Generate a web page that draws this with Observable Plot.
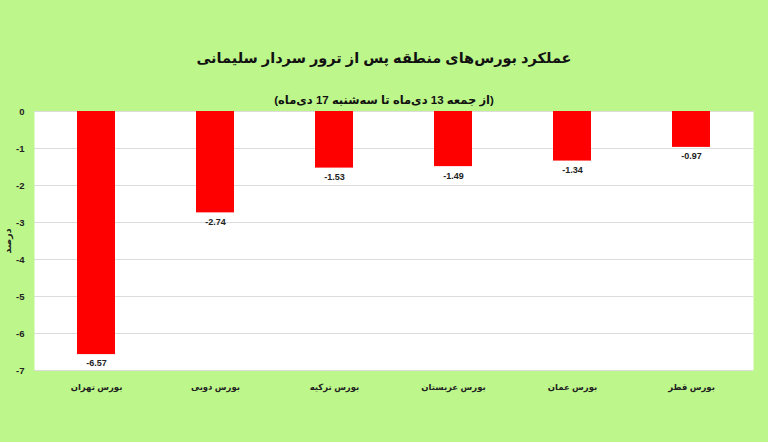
<!DOCTYPE html>
<html>
<head>
<meta charset="utf-8">
<script src="https://cdn.jsdelivr.net/npm/d3@7"></script>
<script src="https://cdn.jsdelivr.net/npm/@observablehq/plot@0.6"></script>
<style>
  html, body { margin: 0; padding: 0; background: #bdf68b; }
  #wrap { width: 768px; height: 442px; position: relative; background: #bdf68b; font-family: "Liberation Sans", "DejaVu Sans", sans-serif; overflow: hidden; }
  #title { position: absolute; top: 50px; left: 0; width: 768px; text-align: center; font-weight: bold; font-size: 14.5px; color: #111; z-index: 2; }
  #subtitle { position: absolute; top: 93px; left: 0; width: 768px; text-align: center; font-weight: bold; font-size: 11.5px; color: #111; z-index: 2; }
  #chart { position: absolute; top: 90px; left: 0; }
  svg { display: block; }
</style>
</head>
<body>
<div id="wrap">
  <div id="title" dir="rtl">عملکرد بورس‌های منطقه پس از ترور سردار سلیمانی</div>
  <div id="subtitle" dir="rtl">(از جمعه 13 دی‌ماه تا سه‌شنبه 17 دی‌ماه)</div>
  <div id="chart"></div>
</div>
<script>
const markets = ["بورس تهران", "بورس دوبی", "بورس ترکیه", "بورس عربستان", "بورس عمان", "بورس قطر"];
const changes = [-6.57, -2.74, -1.53, -1.49, -1.34, -0.97];
const yTicks = [0, -1, -2, -3, -4, -5, -6, -7];
const yLabel = "درصد";

const data = markets.map((m, i) => ({market: m, value: changes[i]}));

const chart = Plot.plot({
  width: 768,
  height: 352,
  marginTop: 21,
  marginBottom: 72,
  marginLeft: 34,
  marginRight: 15,
  style: {background: "transparent", fontFamily: "'Liberation Sans', 'DejaVu Sans', sans-serif", fontSize: "9px", fontWeight: "bold", color: "#222"},
  x: {domain: markets, paddingInner: 0.68, paddingOuter: 0.34, label: null},
  y: {domain: [-7, 0], ticks: yTicks, label: yLabel},
  marks: [
    Plot.frame({fill: "white", stroke: null}),
    Plot.gridY(yTicks, {stroke: "#dcdcdc", strokeOpacity: 1}),
    Plot.barY(data, {x: "market", y: "value", fill: "#ff0000"}),
    Plot.text(data, {x: "market", y: "value", text: d => d.value.toFixed(2), dy: 9, fontSize: 9, fontWeight: "bold", fill: "#222"}),
    Plot.axisX({tickSize: 0, tickPadding: 13, fontSize: 8.5, fontWeight: "bold", label: null}),
    Plot.axisY(yTicks, {tickSize: 0, tickPadding: 10, fontSize: 9.5, fontWeight: "bold", label: yLabel, labelAnchor: "center", labelArrow: "none", labelOffset: 30, tickFormat: d => String(d)})
  ]
});
document.getElementById("chart").appendChild(chart);
</script>
</body>
</html>
